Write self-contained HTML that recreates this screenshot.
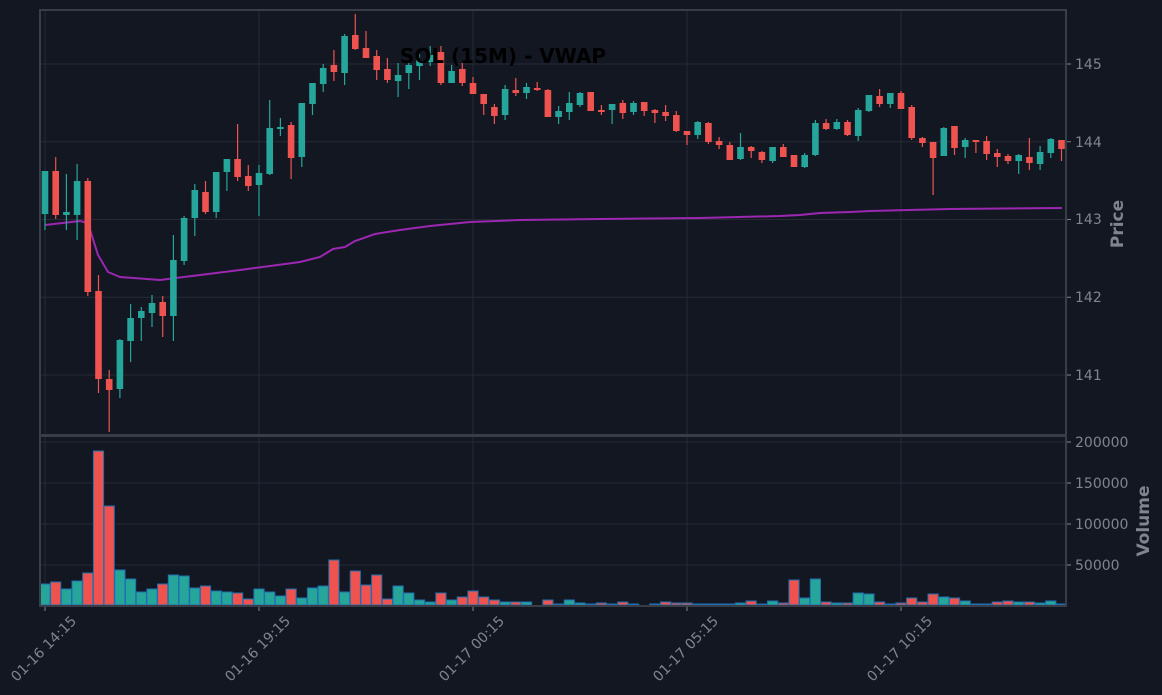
<!DOCTYPE html>
<html><head><meta charset="utf-8"><style>
html,body{margin:0;padding:0;background:#131722;}
svg{display:block;font-family:"DejaVu Sans","Liberation Sans",sans-serif;}
</style></head><body>
<svg id="c" width="1162" height="695" xmlns="http://www.w3.org/2000/svg">
<rect width="1162" height="695" fill="#131722"/>
<g id="grid" stroke="#262a35" stroke-width="1"></g>
<g id="vw"></g>
<g id="candles"></g>
<g id="vol"></g>
<rect x="40" y="10" width="1026" height="425" fill="none" stroke="#393d48" stroke-width="2"/>
<rect x="40" y="436" width="1026" height="170" fill="none" stroke="#393d48" stroke-width="2"/>
<g fill="#80848d" font-size="14">
<text x="1075" y="69">145</text>
<text x="1075" y="147">144</text>
<text x="1075" y="224">143</text>
<text x="1075" y="302">142</text>
<text x="1075" y="380">141</text>
<text x="1075" y="447">200000</text>
<text x="1075" y="488">150000</text>
<text x="1075" y="529">100000</text>
<text x="1075" y="570">50000</text>
</g>
<g fill="#80848d" font-size="17" font-weight="bold">
<text transform="translate(1123,224) rotate(-90)" text-anchor="middle">Price</text>
<text transform="translate(1149,521) rotate(-90)" text-anchor="middle">Volume</text>
</g>
<g fill="#80848d" font-size="14" text-anchor="middle">
<text transform="translate(47,652) rotate(-45)">01-16 14:15</text>
<text transform="translate(261,652) rotate(-45)">01-16 19:15</text>
<text transform="translate(475,652) rotate(-45)">01-17 00:15</text>
<text transform="translate(689,652) rotate(-45)">01-17 05:15</text>
<text transform="translate(903,652) rotate(-45)">01-17 10:15</text>
</g>
<text x="503" y="63" text-anchor="middle" font-size="20" font-weight="bold" fill="#000">SOL (15M) - VWAP</text>
</svg>
<script>
var NS="http://www.w3.org/2000/svg";
function el(p,t,a){var e=document.createElementNS(NS,t);for(var k in a)e.setAttribute(k,a[k]);p.appendChild(e);return e;}
var g=document.getElementById('grid');
[64,141.75,219.5,297.25,375,442,483,524,565].forEach(function(y){el(g,'line',{x1:40,x2:1066,y1:y,y2:y});});
[45,259,473,687,901].forEach(function(x){el(g,'line',{x1:x,x2:x,y1:10,y2:606});el(g,'line',{x1:x,x2:x,y1:606,y2:611,stroke:'#80848d'});});
[64,141.75,219.5,297.25,375,442,483,524,565].forEach(function(y){el(g,'line',{x1:1066,x2:1071,y1:y,y2:y,stroke:'#80848d'});});
var C=[
['G',171,171,214,230],['R',157,171,215,219],['G',174,212,215,230],['G',164,181,215,240],['R',178,181,292,296],
['R',275,291,379,393],['R',370,379,390,432],['G',339,340,389,398],['G',304,318,341,362],['G',307,311,318,341],
['G',295,303,313,327],['R',296,302,316,337],['G',235,260,316,341],['G',216,218,261,265],['G',184,190,218,236],
['R',181,192,212,214],['G',172,172,212,218],['G',159,159,172,191],['R',124,159,177,181],['R',165,176,186,191],
['G',165,173,185,216],['G',100,128,174,175],['G',118,127,129,136],['R',122,125,158,179],['G',103,103,157,167],
['G',83,83,104,115],['G',64,68,84,92],['R',50,65,72,81],['G',34,36,73,85],['R',14,35,49,50],
['R',31,48,58,58],['R',50,56,70,80],['R',58,69,80,83],['G',63,75,81,97],['G',62,65,73,89],
['G',54,60,66,80],['G',46,55,62,66],['R',46,52,83,85],['G',65,71,83,83],['R',63,69,83,86],
['R',77,83,94,94],['R',94,94,104,115],['R',104,107,116,124],['G',85,89,115,120],['R',78,90,93,96],
['G',83,87,93,99],['R',82,88,90,91],['R',89,90,117,117],['G',106,111,117,124],['G',92,103,112,120],
['G',92,93,105,107],['R',92,92,111,111],['R',105,110,112,115],['G',104,104,110,124],['R',100,103,113,119],
['G',101,103,112,115],['R',102,102,111,116],['R',109,110,113,123],['R',105,112,116,121],['R',111,115,131,132],
['R',131,131,135,145],['G',121,122,135,139],['R',122,123,142,144],['R',137,141,145,149],['R',142,145,160,160],
['G',133,147,159,160],['R',146,147,151,158],['R',151,152,160,163],['G',147,147,161,163],['R',144,147,157,157],
['R',155,155,167,167],['G',153,155,167,168],['G',120,123,155,156],['R',119,123,129,130],['G',119,122,129,130],
['R',120,122,135,136],['G',108,110,136,141],['G',95,95,111,112],['R',89,96,104,107],['G',93,93,104,108],
['R',91,93,109,109],['R',105,107,138,140],['R',137,138,143,147],['R',142,142,158,195],['G',127,128,156,156],
['R',126,126,148,155],['G',138,140,147,158],['R',140,140,142,153],['R',136,141,154,160],['R',149,153,157,167],
['R',154,156,161,164],['G',154,155,161,174],['R',138,157,163,170],['G',146,152,164,170],['G',138,139,153,158],
['R',140,140,149,161]];
var V=[['G',584],['R',582],['G',589],['G',581],['R',573],['R',451],['R',506],['G',570],['G',579],['G',592],
['G',589],['R',584],['G',575],['G',576],['G',588],['R',586],['G',591],['G',592],['R',593],['R',599],
['G',589],['G',592],['G',596],['R',589],['G',598],['G',588],['G',586],['R',560],['G',592],['R',571],
['R',585],['R',575],['R',599],['G',586],['G',593],['G',600],['G',602],['R',593],['G',600],['R',597],
['R',591],['R',597],['R',600],['G',602],['R',602],['G',602],['R',605],['R',600],['G',604],['G',600],
['G',603],['R',604],['R',603],['G',604],['R',602],['G',604],['G',605],['G',604],['R',602],['R',603],
['R',603],['G',604],['R',604],['G',604],['R',604],['G',603],['R',601],['R',604],['G',601],['R',603],
['R',580],['G',598],['G',579],['R',602],['G',603],['R',603],['G',593],['G',594],['R',602],['G',604],
['R',603],['R',598],['R',602],['R',594],['G',597],['R',598],['G',601],['G',604],['G',604],['R',602],
['R',601],['G',602],['R',602],['G',603],['G',601],['G',604]];
var col={G:'#26a69a',R:'#ef5350'};
var cg=document.getElementById('candles'),vg=document.getElementById('vol');
C.forEach(function(c,i){var x=45+10.7*i,f=col[c[0]];
el(cg,'line',{x1:x,x2:x,y1:c[1],y2:c[4],stroke:f,'stroke-width':1.2});
el(cg,'rect',{x:x-3.3,y:c[2],width:6.6,height:Math.max(1.5,c[3]-c[2]),fill:f});});
V.forEach(function(v,i){var x=45+10.7*i;if(v[1]>=605)return;
el(vg,'rect',{x:x-5.1,y:v[1],width:10.2,height:605-v[1],fill:col[v[0]],stroke:'#1f6fb0','stroke-width':1});});
var P=[[45,225],[80,221],[88,223],[98,255],[108,272],[120,277],[160,280],[200,275],[240,270],[270,266],[300,262],[320,257],[333,249],[345,247],[355,241],[375,234],[400,230],[430,226],[470,222],[520,220],[600,219],[700,218],[780,216],[800,215],[820,213],[850,212],[870,211],[950,209],[1062,208]];
el(document.getElementById('vw'),'polyline',{points:P.map(function(p){return p.join(',')}).join(' '),fill:'none',stroke:'#9c27b0','stroke-width':2});
</script>
</body></html>
